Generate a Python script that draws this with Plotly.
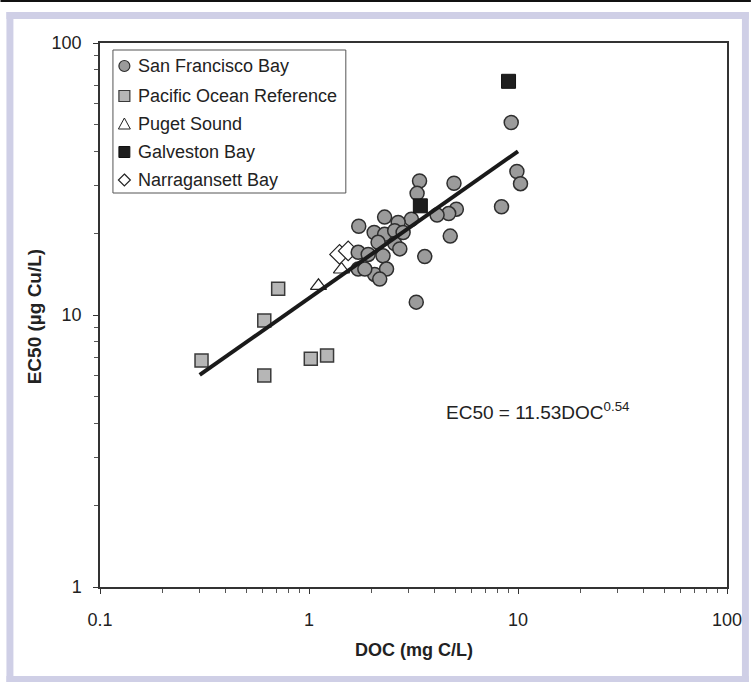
import plotly.graph_objects as go

# ---- data: DOC (mg C/L) and copper EC50 (ug Cu/L) by site ----
sf_doc = [3.38, 4.94, 3.29, 9.88, 10.28, 9.28, 5.07, 4.66, 4.10, 8.34, 3.09, 4.74,
          3.58, 3.26, 1.73, 2.30, 2.67, 2.05, 2.30, 2.57, 2.14, 2.57, 2.72, 1.72,
          1.92, 2.26, 1.72, 2.06, 2.35, 2.18, 1.85, 2.82]
sf_ec50 = [31.1, 30.5, 28.0, 33.7, 30.4, 51.0, 24.5, 23.6, 23.3, 25.0, 22.5, 19.5,
           16.4, 11.15, 21.2, 22.9, 21.9, 20.1, 19.8, 20.4, 18.5, 18.3, 17.5, 17.0,
           16.7, 16.5, 14.75, 14.1, 14.75, 13.55, 14.75, 20.1]

pac_doc = [0.306, 0.712, 0.611, 1.02, 1.22, 0.611]
pac_ec50 = [6.80, 12.5, 9.54, 6.90, 7.09, 5.99]

puget_doc = [1.11, 1.43]
puget_ec50 = [12.8, 14.7]

galv_doc = [3.41, 9.01]
galv_ec50 = [25.2, 72.3]

narr_doc = [1.40, 1.54]
narr_ec50 = [16.7, 17.2]

# power-law fit EC50 = a * DOC^b over the fitted DOC span
fit_a, fit_b = 11.53, 0.54
fit_doc = [0.3, 10.0]
fit_ec50 = [fit_a * d ** fit_b for d in fit_doc]

legend_labels = ["San Francisco Bay", "Pacific Ocean Reference", "Puget Sound",
                 "Galveston Bay", "Narragansett Bay"]
x_ticks = [0.1, 1, 10, 100]
x_ticklabels = ["0.1", "1", "10", "100"]
y_ticks = [1, 10, 100]
y_ticklabels = ["1", "10", "100"]

# ---- layout geometry ----
W, H = 754, 682
ML, MR, MT, MB = 100, 24, 43, 95
PW, PH = W - ML - MR, H - MT - MB
FONT = "Liberation Sans, Arial, sans-serif"
INK = "#222222"
LAVENDER = "#cfcfe6"


def px(x):
    return (x - ML) / PW


def py(y):
    return (H - MB - y) / PH


minor_vals = [m * 10 ** e for e in range(-1, 3) for m in range(2, 10)]

fig = go.Figure()

fig.add_trace(go.Scatter(
    x=pac_doc, y=pac_ec50, mode="markers", name=legend_labels[1],
    marker=dict(symbol="square", size=13, color="#b6b6b6",
                line=dict(color="#3a3a3a", width=1.5))))
fig.add_trace(go.Scatter(
    x=puget_doc, y=puget_ec50, mode="markers", name=legend_labels[2],
    marker=dict(symbol="triangle-up", size=14, color="white",
                line=dict(color="#222", width=1.2))))
fig.add_trace(go.Scatter(
    x=narr_doc, y=narr_ec50, mode="markers", name=legend_labels[4],
    marker=dict(symbol="diamond", size=15, color="white",
                line=dict(color="#222", width=1.2))))
fig.add_trace(go.Scatter(
    x=sf_doc, y=sf_ec50, mode="markers", name=legend_labels[0],
    marker=dict(symbol="circle", size=14, color="#9b9b9b",
                line=dict(color="#2e2e2e", width=1.5))))
fig.add_trace(go.Scatter(
    x=galv_doc, y=galv_ec50, mode="markers", name=legend_labels[3],
    marker=dict(symbol="square", size=14, color="#1e1e1e",
                line=dict(color="#111", width=1))))
fig.add_trace(go.Scatter(
    x=fit_doc, y=fit_ec50, mode="lines", name="fit",
    line=dict(color="#1a1a1a", width=4)))

axis_common = dict(
    type="log", showgrid=False, zeroline=False, showline=True,
    linecolor="#333", linewidth=1.5, mirror=True,
    ticks="outside", ticklen=5, tickwidth=1, tickcolor="#333",
    tickfont=dict(family=FONT, size=18, color=INK),
)
fig.update_xaxes(range=[-1, 2], tickvals=x_ticks, ticktext=x_ticklabels,
                 ticklabelstandoff=11,
                 minor=dict(ticks="outside", ticklen=4, tickcolor="#555",
                            tickvals=minor_vals, showgrid=False),
                 **axis_common)
fig.update_yaxes(range=[0, 2], tickvals=y_ticks, ticktext=y_ticklabels,
                 ticklabelstandoff=8,
                 minor=dict(ticks="outside", ticklen=4, tickcolor="#555",
                            tickvals=minor_vals, showgrid=False),
                 **axis_common)

shapes = []
# page frame: dark rule at top and lavender border
shapes.append(dict(type="rect", xref="paper", yref="paper", layer="below",
                   x0=px(0), x1=px(W), y0=py(2), y1=py(0),
                   fillcolor="#111", line=dict(width=0)))
for (x0, x1, y0, y1) in [(6, 752, 12, 19), (6, 13, 12, 682),
                         (745, 752, 12, 682), (6, 752, 676, 682)]:
    shapes.append(dict(type="rect", xref="paper", yref="paper", layer="below",
                       x0=px(x0), x1=px(x1), y0=py(y1), y1=py(y0),
                       fillcolor=LAVENDER, line=dict(width=0)))

# legend box
shapes.append(dict(type="rect", xref="paper", yref="paper",
                   x0=px(113), x1=px(347), y0=py(193), y1=py(50),
                   fillcolor="white", line=dict(color="#555", width=1)))

rows = [66, 96, 124, 152, 180]
cx, r = 124.5, 5.5
# legend symbols
shapes.append(dict(type="circle", xref="paper", yref="paper",
                   x0=px(cx - r), x1=px(cx + r), y0=py(rows[0] + r), y1=py(rows[0] - r),
                   fillcolor="#9b9b9b", line=dict(color="#2e2e2e", width=1.2)))
shapes.append(dict(type="rect", xref="paper", yref="paper",
                   x0=px(cx - r), x1=px(cx + r), y0=py(rows[1] + r), y1=py(rows[1] - r),
                   fillcolor="#b6b6b6", line=dict(color="#3a3a3a", width=1.2)))
tri = "M {:.5f},{:.5f} L {:.5f},{:.5f} L {:.5f},{:.5f} Z".format(
    px(cx), py(rows[2] - 6), px(cx - 6), py(rows[2] + 5), px(cx + 6), py(rows[2] + 5))
shapes.append(dict(type="path", xref="paper", yref="paper", path=tri,
                   fillcolor="white", line=dict(color="#222", width=1)))
shapes.append(dict(type="rect", xref="paper", yref="paper",
                   x0=px(cx - r), x1=px(cx + r), y0=py(rows[3] + r), y1=py(rows[3] - r),
                   fillcolor="#1e1e1e", line=dict(color="#111", width=1)))
dia = "M {:.5f},{:.5f} L {:.5f},{:.5f} L {:.5f},{:.5f} L {:.5f},{:.5f} Z".format(
    px(cx), py(rows[4] - 6), px(cx + 6), py(rows[4]), px(cx), py(rows[4] + 6),
    px(cx - 6), py(rows[4]))
shapes.append(dict(type="path", xref="paper", yref="paper", path=dia,
                   fillcolor="white", line=dict(color="#222", width=1.2)))

annotations = []
for label, yr in zip(legend_labels, rows):
    annotations.append(dict(xref="paper", yref="paper", x=px(136), y=py(yr),
                            xanchor="left", yanchor="middle", showarrow=False,
                            text=label, font=dict(family=FONT, size=18, color=INK)))

annotations.append(dict(xref="paper", yref="paper", x=px(446), y=py(411),
                        xanchor="left", yanchor="middle", showarrow=False,
                        text="EC50 = 11.53DOC<sup>0.54</sup>",
                        font=dict(family=FONT, size=19, color=INK)))
annotations.append(dict(xref="paper", yref="paper", x=px(415), y=py(650),
                        xanchor="center", yanchor="middle", showarrow=False,
                        text="<b>DOC (mg C/L)</b>",
                        font=dict(family=FONT, size=18, color=INK)))
annotations.append(dict(xref="paper", yref="paper", x=px(34), y=py(316),
                        xanchor="center", yanchor="middle", showarrow=False,
                        textangle=-90, text="<b>EC50 (µg Cu/L)</b>",
                        font=dict(family=FONT, size=19, color=INK)))

fig.update_layout(
    width=W, height=H, autosize=False,
    margin=dict(l=ML, r=MR, t=MT, b=MB, pad=0),
    paper_bgcolor="white", plot_bgcolor="white",
    showlegend=False, shapes=shapes, annotations=annotations,
    font=dict(family=FONT, color=INK),
)

fig.write_html("out.html")
